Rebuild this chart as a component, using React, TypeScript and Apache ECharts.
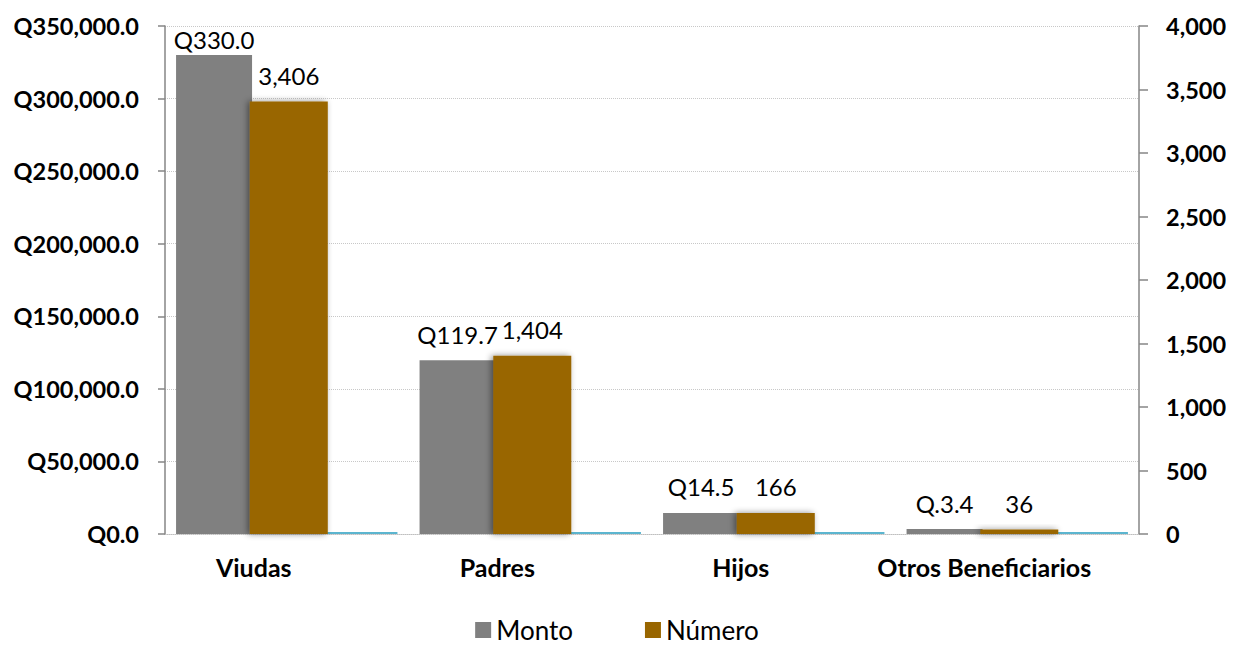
import React, { useEffect, useRef } from "react";
import * as echarts from "echarts";

const categories = ["Viudas", "Padres", "Hijos", "Otros Beneficiarios"];
const montoValues = [330000, 119700, 14500, 3400];
const montoLabels = ["Q330.0", "Q119.7", "Q14.5", "Q.3.4"];
const numeroValues = [3406, 1404, 166, 36];
const extraValues = [0, 0, 0, 0];
const leftTicks = ["Q0.0", "Q50,000.0", "Q100,000.0", "Q150,000.0", "Q200,000.0", "Q250,000.0", "Q300,000.0", "Q350,000.0"];
const rightTicks = ["0", "500", "1,000", "1,500", "2,000", "2,500", "3,000", "3,500", "4,000"];

const FONT = "Lato";

export default function App() {
  const ref = useRef<HTMLDivElement>(null);
  useEffect(() => {
    if (!ref.current) return;
    const chart = echarts.init(ref.current, null, { renderer: "svg" });
    chart.setOption({
      animation: false,
      textStyle: { fontFamily: FONT },
      grid: { left: 165, right: 95, top: 26, bottom: 116 },
      legend: {
        data: ["Monto", "Número"],
        top: 612,
        left: "center",
        itemWidth: 16,
        itemHeight: 16,
        itemGap: 72,
        icon: "rect",
        textStyle: { fontFamily: FONT, fontSize: 26, color: "#000" },
      },
      xAxis: {
        type: "category",
        data: categories,
        axisTick: { show: false },
        axisLine: { lineStyle: { color: "#bfbfbf", type: "dotted", width: 1 } },
        axisLabel: {
          interval: 0,
          fontFamily: FONT,
          fontSize: 25,
          fontWeight: "bold",
          color: "#000",
          margin: 20,
          padding: [0, 66, 0, 0],
        },
      },
      yAxis: [
        {
          type: "value",
          min: 0,
          max: 350000,
          interval: 50000,
          axisLine: { show: true, lineStyle: { color: "#868686", width: 1.5 } },
          axisTick: { show: true, inside: false, length: 7, lineStyle: { color: "#868686", width: 1.5 } },
          axisLabel: {
            fontFamily: FONT,
            fontSize: 23.5,
            fontWeight: "bold",
            color: "#000",
            margin: 26,
            formatter: (_v: number, i: number) => leftTicks[i],
          },
          splitLine: { show: true, lineStyle: { color: "#c8c8c8", type: "dotted", width: 1 } },
        },
        {
          type: "value",
          min: 0,
          max: 4000,
          interval: 500,
          position: "right",
          axisLine: { show: true, lineStyle: { color: "#868686", width: 1.5 } },
          axisTick: { show: true, inside: false, length: 9, lineStyle: { color: "#868686", width: 1.5 } },
          axisLabel: {
            fontFamily: FONT,
            fontSize: 23.5,
            fontWeight: "bold",
            color: "#000",
            margin: 27,
            formatter: (_v: number, i: number) => rightTicks[i],
          },
          splitLine: { show: false },
        },
      ],
      series: [
        {
          name: "Monto",
          type: "bar",
          yAxisIndex: 0,
          barWidth: 76,
          barGap: "-3%",
          barCategoryGap: "6%",
          itemStyle: { color: "#808080" },
          data: montoValues.map((v, i) => (i === 0 ? { value: v, label: { distance: 4 } } : v)),
          label: {
            show: true,
            position: "top",
            distance: 14,
            fontFamily: FONT,
            fontSize: 24,
            color: "#000",
            formatter: (p: any) => montoLabels[p.dataIndex],
          },
        },
        {
          name: "Número",
          type: "bar",
          yAxisIndex: 1,
          barWidth: 78,
          barGap: "-3%",
          z: 3,
          itemStyle: {
            color: "#996600",
            shadowColor: "rgba(0,0,0,0.45)",
            shadowBlur: 6,
            shadowOffsetX: -2,
          },
          data: numeroValues,
          label: {
            show: true,
            position: "top",
            distance: 14,
            fontFamily: FONT,
            fontSize: 24,
            color: "#000",
            formatter: (p: any) => Number(p.value).toLocaleString("en-US"),
          },
        },
        {
          name: "Otro",
          type: "bar",
          yAxisIndex: 1,
          barWidth: 72,
          barGap: "-3%",
          barMinHeight: 2,
          itemStyle: { color: "#5bb5cf" },
          data: extraValues,
        },
      ],
    });
    return () => chart.dispose();
  }, []);
  return <div ref={ref} style={{ width: 1234, height: 650, margin: -8 }} />;
}
